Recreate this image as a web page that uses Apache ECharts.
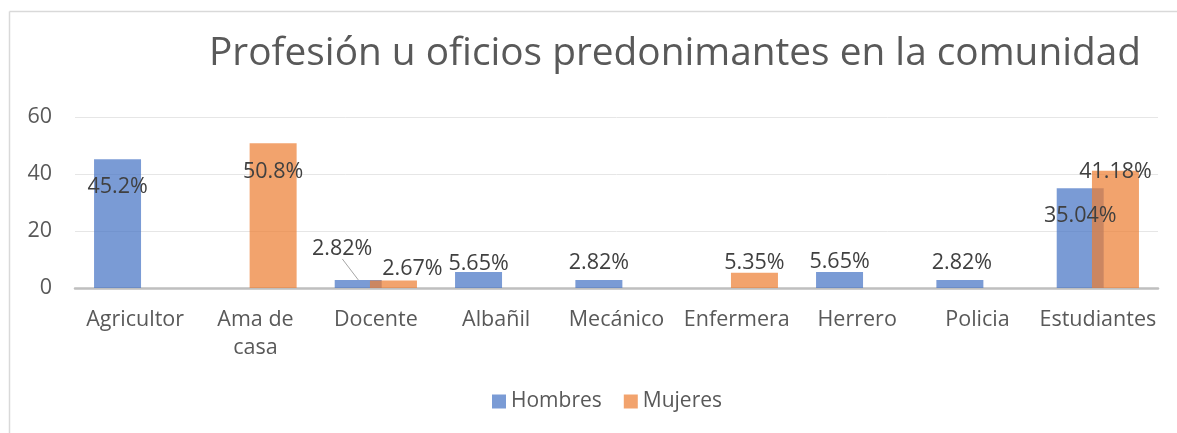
<!DOCTYPE html>
<html>
<head>
<meta charset="utf-8">
<script src="https://cdn.jsdelivr.net/npm/echarts@6/dist/echarts.min.js"></script>
<style>
html,body{margin:0;padding:0;background:#fff;}
#chart{width:1177px;height:433px;}
</style>
</head>
<body>
<div id="chart"></div>
<script>
const categories = ['Agricultor','Ama de\ncasa','Docente','Albañil','Mecánico','Enfermera','Herrero','Policia','Estudiantes'];
const hombres = [45.2, null, 2.82, 5.65, 2.82, null, 5.65, 2.82, 35.04];
const mujeres = [null, 50.8, 2.67, null, null, 5.35, null, null, 41.18];
const hombresLabels = ['45.2%', '', '2.82%', '5.65%', '2.82%', '', '5.65%', '2.82%', '35.04%'];
const mujeresLabels = ['', '50.8%', '2.67%', '', '', '5.35%', '', '', '41.18%'];
const yTicks = [0, 20, 40, 60];

// label offsets (style only): [dx, label-centre minus bar-top]
const hOff = [[0,28],[0,0],[-16,-31],[0,-8],[0,-17],[0,0],[0,-10],[2,-17],[0,28]];
const mOff = [[0,0],[0,29],[19,-12],[0,0],[0,0],[0,-10],[0,0],[0,0],[0,1]];
const LH = 22;

const chart = echarts.init(document.getElementById('chart'), null, {renderer:'canvas'});
const FONT = '"Open Sans", "Noto Sans", sans-serif';
const BLUE = 'rgba(68,114,196,0.71)';
const ORANGE = 'rgba(237,125,49,0.71)';

function buildData(vals, labels, offs) {
  return vals.map((v, i) => {
    if (v === null) return {value: null, label:{show:false}};
    return {value: v, label: {show:true, position:'top', distance:0, offset: [offs[i][0], offs[i][1] + LH/2], formatter: labels[i]}};
  });
}

const option = {
  animation: false,
  backgroundColor: '#ffffff',
  title: {
    text: 'Profesión u oficios predonimantes en la comunidad',
    left: 670, top: 29, textAlign: 'center',
    textStyle: {fontFamily: FONT, fontSize: 38.8, fontWeight: 'normal', color: '#595959'}
  },
  legend: {
    data: ['Hombres','Mujeres'],
    left: 487, top: 386, itemWidth: 14, itemHeight: 14, itemGap: 22,
    icon: 'rect',
    textStyle: {fontFamily: FONT, fontSize: 21, color: '#595959'}
  },
  grid: {left: 75, right: 19, top: 117, bottom: 145, containLabel: false},
  xAxis: {
    type: 'category', data: categories,
    axisLine: {lineStyle: {color: '#bfbfbf', width: 2.5}},
    axisTick: {show: false},
    axisLabel: {fontFamily: FONT, fontSize: 21.5, color: '#595959', lineHeight: 28, margin: 18, interval: 0}
  },
  yAxis: {
    type: 'value', min: 0, max: 60, interval: 20,
    axisLine: {show: false}, axisTick: {show: false},
    splitLine: {lineStyle: {color: '#e6e6e6', width: 1}},
    axisLabel: {fontFamily: FONT, fontSize: 21.5, color: '#595959', margin: 23}
  },
  series: [
    {
      name: 'Hombres', type: 'bar', barWidth: 47, barGap: '-25%',
      itemStyle: {color: BLUE},
      label: {show: true, fontFamily: FONT, fontSize: 21.5, color: '#404040', lineHeight: LH},
      data: buildData(hombres, hombresLabels, hOff)
    },
    {
      name: 'Mujeres', type: 'bar', barWidth: 47, barGap: '-25%',
      itemStyle: {color: ORANGE},
      label: {show: true, fontFamily: FONT, fontSize: 21.5, color: '#404040', lineHeight: LH},
      data: buildData(mujeres, mujeresLabels, mOff)
    }
  ]
};
chart.setOption(option);

// frame + leader line for Docente / Hombres label, computed from the axis scales
const docIdx = 2;
const catPx = chart.convertToPixel({xAxisIndex: 0}, docIdx);
const topPx = chart.convertToPixel({yAxisIndex: 0}, hombres[docIdx]);
const barCenter = catPx - 17.5;
chart.setOption({graphic: [
  {type: 'line', shape: {x1: 9.5, y1: 11.5, x2: 1177, y2: 11.5}, style: {stroke: '#d9d9d9', lineWidth: 1.5}, silent: true},
  {type: 'line', shape: {x1: 9.5, y1: 11.5, x2: 9.5, y2: 433}, style: {stroke: '#d9d9d9', lineWidth: 1.5}, silent: true},
  {type: 'line', shape: {x1: barCenter + hOff[docIdx][0], y1: topPx + hOff[docIdx][1] + 10, x2: barCenter, y2: topPx}, style: {stroke: '#a6a6a6', lineWidth: 1}, silent: true}
]});
</script>
</body>
</html>
